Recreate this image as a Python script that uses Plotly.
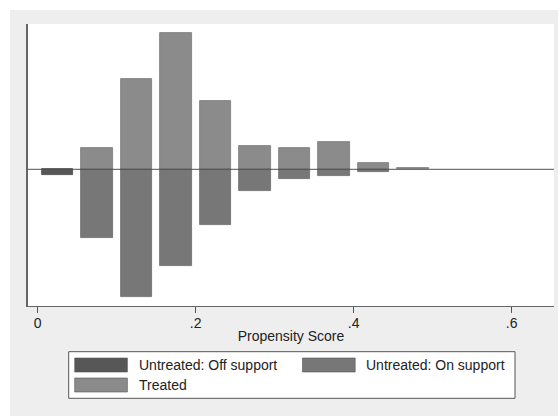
import plotly.graph_objects as go

# Histogram bins of the propensity score (bin centres, width 0.05)
off_support_x = [0.025]
off_support_freq = [5.7]

untreated_x = [0.075, 0.125, 0.175, 0.225, 0.275, 0.325, 0.375, 0.425]
untreated_freq = [68.7, 127.4, 96.7, 55.7, 21.4, 9.7, 6.4, 2.4]

treated_x = [0.075, 0.125, 0.175, 0.225, 0.275, 0.325, 0.375, 0.425, 0.475]
treated_freq = [21.0, 90.3, 136.0, 68.0, 23.6, 21.0, 27.6, 6.6, 1.6]

tick_vals = [0, 0.2, 0.4, 0.6]
tick_text = ["0", ".2", ".4", ".6"]

legend_labels = ["Untreated: Off support", "Untreated: On support", "Treated"]

C_OFF = "#575757"
C_UNT = "#777777"
C_TRE = "#8b8b8b"
BG = "#eeeeee"
FONT = "Liberation Sans, Arial, sans-serif"

W, H = 558, 416
ML, MR, MT, MB = 28, 4, 24, 110
PW, PH = W - ML - MR, H - MT - MB


def px(x):
    return (x - ML) / PW


def py(y):
    return (MT + PH - y) / PH


bar_w = 0.04
fig = go.Figure()
fig.add_trace(go.Bar(x=off_support_x, y=[-v for v in off_support_freq], width=bar_w,
                     marker=dict(color=C_OFF, line=dict(color="#4a4a4a", width=0.8)),
                     name=legend_labels[0], showlegend=False))
fig.add_trace(go.Bar(x=untreated_x, y=[-v for v in untreated_freq], width=bar_w,
                     marker=dict(color=C_UNT, line=dict(color="#6a6a6a", width=0.8)),
                     name=legend_labels[1], showlegend=False))
fig.add_trace(go.Bar(x=treated_x, y=treated_freq, width=bar_w,
                     marker=dict(color=C_TRE, line=dict(color="#7a7a7a", width=0.8)),
                     name=legend_labels[2], showlegend=False))

shapes = [
    # white frame strips at the top and left of the grey graph region
    dict(type="rect", xref="paper", yref="paper", x0=px(0), x1=px(10), y0=py(H), y1=py(0),
         fillcolor="white", line=dict(width=0), layer="below"),
    dict(type="rect", xref="paper", yref="paper", x0=px(0), x1=px(W), y0=py(10), y1=py(0),
         fillcolor="white", line=dict(width=0), layer="below"),
    # zero reference line drawn above the bars
    dict(type="line", xref="paper", yref="y", x0=0, x1=1, y0=0, y1=0,
         line=dict(color="#505050", width=1), layer="above"),
    # legend box
    dict(type="rect", xref="paper", yref="paper", x0=px(68.7), x1=px(515), y0=py(398.3), y1=py(351.7),
         fillcolor="white", line=dict(color="#555555", width=1)),
]

annotations = []
legend_items = [
    (legend_labels[0], C_OFF, 74.7, 358),
    (legend_labels[1], C_UNT, 302.5, 358),
    (legend_labels[2], C_TRE, 74.7, 378),
]
for label, col, x0, y0 in legend_items:
    shapes.append(dict(type="rect", xref="paper", yref="paper",
                       x0=px(x0), x1=px(x0 + 52.7), y0=py(y0 + 14), y1=py(y0),
                       fillcolor=col, line=dict(color="#555555", width=0.6)))
    annotations.append(dict(xref="paper", yref="paper", x=px(x0 + 62), y=py(y0 + 7),
                            text=label, showarrow=False, xanchor="left", yanchor="middle",
                            font=dict(family=FONT, size=14, color="#222222")))

fig.update_layout(
    width=W, height=H,
    margin=dict(l=ML, r=MR, t=MT, b=MB, pad=0),
    paper_bgcolor=BG, plot_bgcolor="white",
    barmode="overlay", bargap=0,
    showlegend=False,
    font=dict(family=FONT, size=14, color="#222222"),
    shapes=shapes, annotations=annotations,
    xaxis=dict(range=[(ML - 37.7) / 790, (ML + PW - 37.7) / 790],
               tickmode="array", tickvals=tick_vals, ticktext=tick_text,
               ticks="outside", ticklen=6, tickwidth=1, tickcolor="#555555",
               ticklabelstandoff=-2,
               showline=True, linecolor="#666666", linewidth=1,
               showgrid=False, zeroline=False, automargin=False,
               tickfont=dict(family=FONT, size=14, color="#222222"),
               title=dict(text="Propensity Score", standoff=1,
                          font=dict(family=FONT, size=14, color="#222222"))),
    yaxis=dict(range=[-136.7, 145.3], showticklabels=False, ticks="",
               showline=True, linecolor="#666666", linewidth=1.5,
               showgrid=False, zeroline=False, automargin=False),
)

fig.write_html("out.html")
